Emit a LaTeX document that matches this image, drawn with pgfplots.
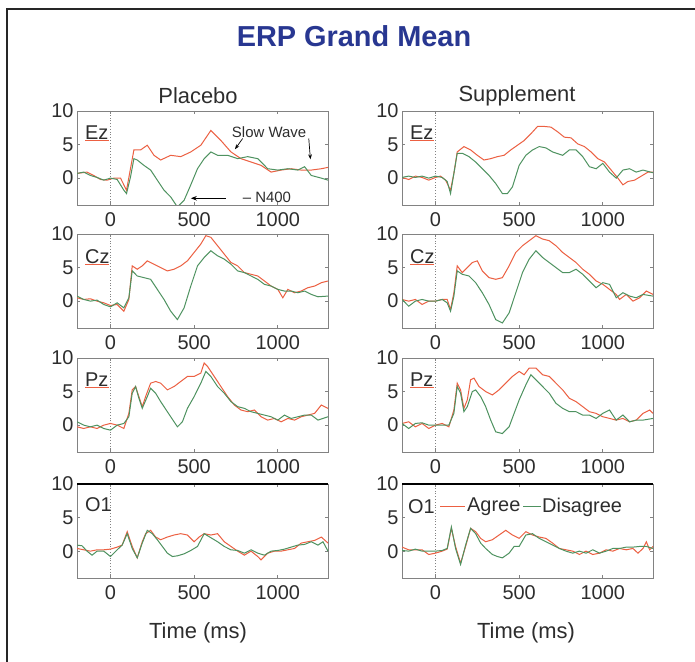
\documentclass[border=0pt]{standalone}
\usepackage{fontspec}
\setmainfont{Liberation Sans}
\usepackage{pgfplots}
\pgfplotsset{compat=1.18}
\usetikzlibrary{arrows.meta}

\definecolor{titleblue}{RGB}{40,55,145}
\definecolor{agreec}{RGB}{236,96,66}
\definecolor{disc}{RGB}{78,146,96}
\definecolor{axgray}{RGB}{130,130,130}
\definecolor{txt}{RGB}{45,45,45}

\newcommand{\tickfont}{\fontsize{20}{24}\selectfont}
\newcommand{\labfont}{\fontsize{22}{26}\selectfont}
\newcommand{\notefont}{\fontsize{15}{18}\selectfont}

\pgfplotsset{
  panel/.style={
    scale only axis, width=251bp, height=94bp, anchor=south west,
    xmin=-200, xmax=1300, ymin=-4, ymax=10,
    xtick={0,500,1000}, ytick={0,5,10},
    tick align=inside, major tick length=3bp,
    axis line style={draw=axgray, line width=0.8bp},
    tick style={draw=axgray, line width=0.8bp},
    ticklabel style={font=\tickfont, text=txt},
    xticklabel style={yshift=-4bp},
    /pgf/number format/assume math mode=true,
    /pgf/number format/set thousands separator={},
    clip=true,
  },
  agree/.style={color=agreec, line width=1bp, no markers},
  dis/.style={color=disc, line width=1bp, no markers},
}
% dotted line at stimulus onset
\newcommand{\onset}{\draw[axgray, dotted, line width=0.8bp] (axis cs:0,-4) -- (axis cs:0,10);}

\begin{document}
\begin{tikzpicture}[x=1bp,y=1bp]
\path[use as bounding box, fill=white] (0,0) rectangle (695,662);
\draw[line width=2.5bp, black!85] (7,0) -- (7,653) -- (695,653);

\node[font=\fontsize{29}{34}\selectfont\bfseries, text=titleblue] at (354,626) {ERP Grand Mean};
\node[font=\labfont, text=txt] at (198,566) {Placebo};
\node[font=\labfont, text=txt] at (517,566) {Supplement};
\node[font=\labfont, text=txt] at (198,29) {Time (ms)};
\node[font=\labfont, text=txt] at (526,29) {Time (ms)};

% ---------- Placebo Ez
\begin{axis}[panel, at={(77bp,457bp)}]
\onset
\addplot[agree] coordinates {(-200,0.7) (-140,0.9) (-100,0.4) (-60,-0.2) (-20,-0.3) (20,0) (60,0) (96,-1.8) (140,4.2) (180,4.2) (220,4.9) (260,3.4) (300,2.7) (360,3.4) (420,3.2) (480,3.9) (540,4.9) (600,7.1) (660,5.6) (720,3.9) (780,2.9) (840,2.4) (900,1.9) (960,0.9) (1020,1.2) (1080,1.4) (1140,1.2) (1200,1.2) (1260,1.4) (1300,1.6)};
\addplot[dis] coordinates {(-200,0.7) (-160,0.9) (-120,0.4) (-80,0.1) (-40,-0.3) (0,0) (40,-0.2) (80,-1.8) (96,-2.3) (120,0.2) (140,2.9) (160,2.7) (200,1.9) (240,1.2) (280,-0.3) (320,-1.8) (360,-2.8) (400,-4.3) (440,-3.3) (480,-1) (520,1.4) (560,2.9) (600,3.9) (640,3.4) (700,3.4) (760,2.9) (820,3.2) (880,2.9) (940,1.4) (1000,1.2) (1060,1.4) (1120,1.2) (1160,1.7) (1200,0.4) (1260,0) (1300,-0.3)};
\node[font=\notefont, text=txt, anchor=west, inner sep=0] at (axis cs:725,6.9) {Slow Wave};
\draw[-{Stealth[length=5bp]}, black, line width=0.7bp] (axis cs:790,5.9) -- (axis cs:744,4.3);
\draw[-{Stealth[length=5bp]}, black, line width=0.7bp] (axis cs:1185,5.9) -- (axis cs:1195,2.8);
\draw[-{Stealth[length=6bp]}, black, line width=0.9bp] (axis cs:690,-3) -- (axis cs:480,-3);
\node[font=\notefont, text=txt, anchor=west, inner sep=0] at (axis cs:790,-2.9) {-- N400};
\end{axis}

% ---------- Supplement Ez
\begin{axis}[panel, at={(402bp,457bp)}]
\onset
\addplot[agree] coordinates {(-200,0.1) (-160,-0.2) (-120,0.3) (-80,0.1) (-40,-0.3) (0,0.1) (30,0.3) (60,-0.3) (90,-1.8) (110,0.7) (130,3.9) (170,4.7) (210,4.2) (250,3.4) (290,2.7) (330,2.9) (370,3.2) (410,3.4) (450,4.2) (490,4.9) (530,5.6) (570,6.6) (610,7.7) (650,7.7) (690,7.6) (730,6.9) (770,6.1) (810,6) (850,5.1) (890,4.7) (930,3.9) (970,2.9) (1010,2.4) (1050,1.2) (1090,0) (1120,-1) (1150,-0.5) (1190,-0.3) (1230,0.3) (1270,0.9) (1300,0.9)};
\addplot[dis] coordinates {(-200,0.1) (-160,0.3) (-120,0.1) (-80,0.3) (-40,0) (0,0.3) (40,0.1) (70,-0.5) (90,-2.3) (110,0.7) (130,3.7) (160,3.7) (200,3.2) (240,2.4) (280,1.4) (320,0.4) (360,-0.8) (400,-2.3) (430,-2.3) (460,-1.3) (500,1.9) (540,3.4) (580,4.2) (620,4.7) (660,4.5) (700,3.9) (760,3.4) (800,4.2) (840,4.2) (880,3.2) (920,1.7) (960,1.4) (1000,2.2) (1040,0.9) (1080,0) (1120,1.2) (1160,1.4) (1200,0.9) (1240,1.2) (1300,0.8)};
\end{axis}

% ---------- Placebo Cz
\begin{axis}[panel, at={(77bp,334bp)}]
\onset
\addplot[agree] coordinates {(-200,0.5) (-160,0.25) (-120,0.35) (-80,0) (-40,-0.25) (0,-0.65) (40,-0.5) (80,-1.5) (110,0.25) (130,5.25) (160,4.75) (190,5.25) (220,6) (260,5.5) (300,5) (340,4.5) (380,4.75) (420,5.25) (460,6) (500,7.25) (540,8.5) (570,9.75) (600,9.5) (640,8.25) (680,7) (720,5.75) (760,5.25) (800,4.25) (840,4) (880,3.75) (920,3) (960,2.25) (1000,1.75) (1030,0.5) (1060,1.75) (1100,1.25) (1140,1.5) (1180,2) (1220,2.25) (1260,2.75) (1300,3)};
\addplot[dis] coordinates {(-200,0.75) (-160,0.25) (-120,0) (-80,0.15) (-40,-0.5) (0,-0.85) (40,-0.25) (80,-1) (110,0.5) (130,4.5) (160,3.75) (200,3.5) (240,3.25) (280,1.75) (320,0.25) (360,-1.5) (400,-2.75) (440,-1) (480,2.25) (520,5.25) (560,6.5) (600,7.5) (640,6.75) (680,6.25) (720,5.5) (760,4.5) (800,4.25) (840,3.75) (880,3.25) (920,2.5) (960,2.25) (1000,1.75) (1040,1.5) (1080,1.5) (1120,1.25) (1160,1.5) (1200,1) (1240,0.65) (1300,0.75)};
\end{axis}

% ---------- Supplement Cz
\begin{axis}[panel, at={(402bp,334bp)}]
\onset
\addplot[agree] coordinates {(-200,0.25) (-160,0) (-120,0.25) (-80,-0.5) (-40,0) (0,0) (40,0.25) (70,0.25) (90,-1.25) (110,1.25) (130,5.25) (160,4.25) (190,5) (220,5.75) (250,6) (280,4.5) (320,3.5) (360,3.25) (400,3.5) (440,5.25) (480,7.25) (520,8.25) (560,9) (600,9.75) (640,9.25) (680,9) (720,8.25) (760,7.25) (800,6.5) (840,5.75) (880,4.75) (920,4) (960,3) (1000,2.5) (1040,1.75) (1080,1) (1100,0.25) (1140,1) (1180,0) (1220,0.5) (1260,1.5) (1300,1)};
\addplot[dis] coordinates {(-200,0.25) (-160,-0.75) (-120,0) (-80,0.25) (-40,0) (0,0) (40,0.25) (70,-0.25) (90,-1.5) (110,0.75) (130,4.5) (160,4) (200,3.75) (240,2.75) (280,1.25) (320,-0.5) (360,-2.75) (400,-3.25) (440,-1.75) (480,1.25) (520,4.25) (560,6.25) (600,7.5) (640,6.5) (680,5.75) (720,5) (760,4.25) (800,4.25) (840,4.75) (880,4) (920,3) (960,2) (1000,2.75) (1040,2.5) (1080,0.5) (1120,1.25) (1160,0.75) (1200,0.5) (1240,1) (1300,0.75)};
\end{axis}

% ---------- Placebo Pz
\begin{axis}[panel, at={(77bp,210bp)}]
\onset
\addplot[agree] coordinates {(-200,-0.25) (-160,-0.5) (-120,-0.25) (-80,-0.5) (-40,0) (0,0.25) (40,0) (80,-0.5) (110,1.75) (130,5.25) (150,5.75) (170,4.25) (190,2.75) (210,4.25) (240,6.25) (270,6.5) (300,6.25) (340,5.25) (380,5.75) (420,6.5) (460,7.25) (500,7.25) (540,7.75) (560,9.25) (580,8.75) (620,7.25) (660,5.75) (700,4.25) (740,3) (780,2.25) (820,2) (860,2.25) (900,1.25) (940,0.75) (980,1) (1020,0.5) (1060,1) (1100,0.75) (1140,1.25) (1180,1.5) (1220,1.75) (1260,3) (1300,2.5)};
\addplot[dis] coordinates {(-200,0.5) (-160,0) (-120,-0.25) (-80,0) (-40,-0.5) (0,-0.75) (40,0) (80,0.25) (110,1.25) (130,4.75) (150,5.75) (170,4) (190,2.5) (220,4.25) (240,5.5) (270,4.75) (300,3.5) (340,2) (380,0.5) (400,-0.25) (430,0.5) (460,2.5) (500,4.25) (540,6.25) (570,8) (600,7.25) (640,5.75) (680,4.75) (720,3.5) (760,2.75) (800,2.5) (840,2) (880,1.75) (920,1.5) (960,1.25) (1000,0.75) (1040,1.5) (1080,1) (1120,1.25) (1160,1.5) (1200,1.5) (1240,0.75) (1300,1.25)};
\end{axis}

% ---------- Supplement Pz
\begin{axis}[panel, at={(402bp,210bp)}]
\onset
\addplot[agree] coordinates {(-200,0.25) (-160,0.5) (-120,-0.25) (-80,0.25) (-40,-0.5) (0,0) (40,0.25) (80,-0.25) (110,2.25) (130,6.25) (150,5.25) (170,2.5) (190,3.75) (210,6.75) (230,7) (260,5.75) (300,5) (340,4.5) (380,5.25) (420,6.25) (460,7.25) (500,8) (530,7.5) (560,8.5) (600,8.5) (640,7.5) (680,7.25) (720,6.25) (760,5.25) (800,4) (840,3.5) (880,2.75) (920,2) (960,1.75) (1000,1.25) (1040,1) (1080,0.75) (1120,1) (1160,0.5) (1200,0.75) (1240,1.75) (1280,2.25) (1300,1.75)};
\addplot[dis] coordinates {(-200,0.25) (-160,-0.5) (-120,0.25) (-80,0.35) (-40,0) (0,0) (40,0) (80,0) (110,1.75) (130,5.75) (150,4.75) (170,2) (190,2.75) (220,5) (240,5.25) (270,4.25) (300,2.75) (330,0.75) (360,-1) (400,-1.25) (440,-0.25) (470,1.75) (500,3.75) (540,6) (570,7.5) (600,6.75) (640,5.75) (680,4.75) (720,3.25) (760,2.5) (800,2) (840,2) (880,1.5) (920,1.5) (960,1) (1000,1.75) (1040,2.25) (1080,0.75) (1120,1.5) (1160,0.5) (1200,0.75) (1240,0.75) (1300,1)};
\end{axis}

% ---------- Placebo O1
\begin{axis}[panel, at={(77bp,84bp)}]
\onset
\addplot[agree] coordinates {(-200,0.4) (-160,0.2) (-120,0) (-80,0.2) (-40,0.2) (0,0.3) (40,0.6) (70,0.9) (100,2.9) (130,0.7) (160,-1) (190,1.4) (210,2.6) (240,3.1) (270,2.1) (300,1.7) (340,2.1) (380,2.4) (420,2.6) (460,2.4) (500,1.4) (530,2.1) (560,2.6) (600,2.4) (640,2.6) (680,1.4) (720,0.7) (760,0) (800,-0.6) (840,0) (880,-0.8) (900,-1.3) (940,-0.3) (980,0) (1020,0) (1060,0.2) (1100,0.4) (1140,1.2) (1180,1.4) (1220,1.6) (1260,2.1) (1300,1.2)};
\addplot[dis] coordinates {(-200,0.9) (-170,0.8) (-140,0) (-110,-0.6) (-80,0) (-40,0) (0,-0.8) (40,0.2) (70,0.9) (100,2.6) (130,0.4) (160,-1) (190,1.2) (220,3.1) (250,2.6) (280,1.7) (310,0.7) (340,-0.3) (370,-0.8) (400,-0.7) (440,-0.4) (480,0.1) (520,0.7) (560,2.6) (600,2) (640,1.4) (680,0.7) (720,0.2) (760,0.1) (800,-0.3) (840,0.2) (880,-0.3) (920,-0.6) (960,0) (1000,0.1) (1040,0.3) (1080,0.6) (1120,0.9) (1160,1) (1200,1.4) (1240,0.9) (1270,1.4) (1300,0)};
\draw[black, line width=1.6bp] (rel axis cs:0,1) -- (rel axis cs:1,1);
\end{axis}

% ---------- Supplement O1
\begin{axis}[panel, at={(402bp,84bp)}]
\onset
\addplot[agree] coordinates {(-200,0.6) (-160,0.2) (-120,0.2) (-80,0.2) (-40,-0.5) (0,-0.3) (40,0) (70,0.3) (95,3.4) (120,0.7) (150,-1.8) (180,0.7) (210,3.4) (240,2.9) (270,1.9) (300,1.4) (340,1.7) (380,2.4) (420,3.1) (460,2.4) (500,1.9) (540,2.9) (580,2.4) (620,2.1) (660,1.9) (700,1.2) (740,0.4) (780,0.2) (820,0) (860,-0.5) (900,0) (940,-0.5) (980,-0.3) (1020,0.2) (1060,0) (1100,0.4) (1140,0.2) (1180,0.4) (1210,-0.3) (1240,0.4) (1260,1.4) (1280,0.2) (1300,0.7)};
\addplot[dis] coordinates {(-200,0.1) (-160,0) (-120,0.3) (-80,0) (-40,0) (0,0) (40,0.1) (70,0.4) (95,3.6) (120,0.4) (150,-2) (180,0.9) (210,3.4) (240,2.6) (270,1.2) (300,0.4) (340,-0.5) (370,-0.8) (400,-1) (440,-0.3) (470,0.7) (500,0.7) (540,2.4) (580,2.6) (620,1.9) (660,1.4) (700,0.9) (740,0.4) (780,0) (820,-0.3) (860,0) (900,-0.3) (940,0.2) (980,-0.3) (1020,0) (1060,0.4) (1100,0.4) (1140,0.6) (1180,0.6) (1220,0.7) (1260,0.7) (1300,0.4)};
\draw[black, line width=1.6bp] (rel axis cs:0,1) -- (rel axis cs:1,1);
\end{axis}

% ---------- channel labels (red line under each, as in the original legend boxes)
\foreach \cx in {85,410} {
  \foreach \cy/\nm in {529/Ez,405/Cz,282/Pz} {
    \draw[agreec, line width=1bp] (\cx,\cy-8) -- (\cx+24,\cy-8);
    \node[font=\tickfont, text=txt, anchor=west, inner sep=0] at (\cx,\cy) {\nm};
  }
}
\node[font=\tickfont, text=txt, anchor=west, inner sep=0] at (85,157) {O1};
\node[font=\tickfont, text=txt, anchor=west, inner sep=0] at (408,155) {O1};
\draw[agreec, line width=1bp] (440,155) -- (465,155);
\node[font=\tickfont, text=txt, anchor=west, inner sep=0] at (467,155) {Agree};
\draw[disc, line width=1bp] (523,155) -- (541,155);
\node[font=\tickfont, text=txt, anchor=west, inner sep=0] at (542,155) {Disagree};
\end{tikzpicture}
\end{document}
